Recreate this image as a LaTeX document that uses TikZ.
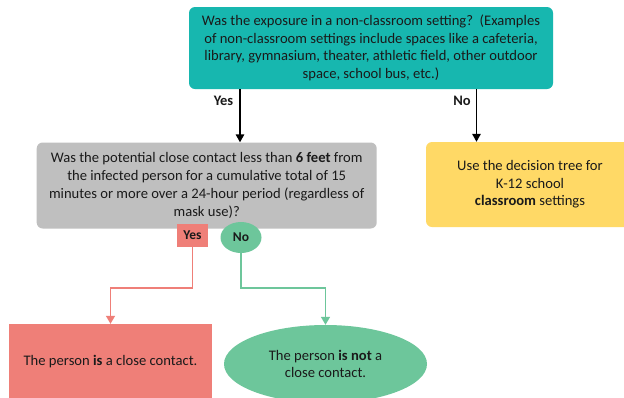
\documentclass[tikz,border=0pt]{standalone}
\usepackage{fontspec}
\setmainfont{Carlito}
\usetikzlibrary{arrows.meta,shapes.geometric}
\definecolor{teal1}{HTML}{17B7AF}
\definecolor{grey1}{HTML}{BFBFBF}
\definecolor{yel1}{HTML}{FFD966}
\definecolor{red1}{HTML}{EF7F78}
\definecolor{grn1}{HTML}{6DC69B}
\definecolor{txt}{HTML}{1A1A1A}
\tikzset{
  box/.style={rounded corners=6pt, inner sep=0pt, align=center, text=txt,
    font=\fontsize{14.6}{17.6}\selectfont},
  blk/.style={line width=1.5pt, draw=black, -{Triangle[width=8.5pt,length=8pt]}},
  redln/.style={line width=1.4pt, draw=red1, -{Triangle[width=9pt,length=8pt]}},
  grnln/.style={line width=1.4pt, draw=grn1, -{Triangle[width=9pt,length=8pt]}},
  lbl/.style={font=\bfseries\fontsize{14.5}{16}\selectfont, text=txt, inner sep=0pt},
  small/.style={font=\bfseries\fontsize{13.5}{15}\selectfont, text=txt, inner sep=0pt}
}
\begin{document}
\begin{tikzpicture}[x=1pt,y=-1pt]
\useasboundingbox (0,0) rectangle (624,397);
\clip (0,0) rectangle (624,397);
\fill[white] (0,0) rectangle (624,397);

\node[box, fill=teal1, minimum width=364pt, minimum height=82pt] (q1) at (371,48)
  {Was the exposure in a non-classroom setting?\ \ (Examples\\
   of non-classroom settings include spaces like a cafeteria,\\
   library, gymnasium, theater, athletic field, other outdoor\\
   space, school bus, etc.)};

\node[box, fill=grey1, minimum width=340pt, minimum height=86pt,
  font=\fontsize{14.6}{18}\selectfont] (q2) at (206.7,185.5)
  {Was the potential close contact less than \textbf{6 feet} from\\
   the infected person for a cumulative total of 15\\
   minutes or more over a 24-hour period (regardless of\\
   mask use)?};

\node[box, fill=yel1, minimum width=208pt, minimum height=85pt] (y1) at (530,184.5)
  {Use the decision tree for\\ K-12 school\\ \textbf{classroom} settings};

\coordinate (ya) at (240,0);
\coordinate (na) at (476.5,0);
\draw[blk] (q1.south -| ya) -- (q2.north -| ya);
\draw[blk] (q1.south -| na) -- (y1.north -| na);
\node[lbl] (yes1) at (223.5,100.5) {Yes};
\node[lbl] (no1) at (462,100.5) {No};

\node[small, fill=red1, minimum width=31pt, minimum height=23pt] (yes2) at (192.5,235.5) {Yes};
\node[small, ellipse, fill=grn1, minimum width=41pt, minimum height=31pt] (no2) at (241,237.5) {No};

\node[box, rounded corners=0pt, fill=red1, minimum width=203pt, minimum height=76pt] (r) at (110.5,362)
  {The person \textbf{is} a close contact.};
\node[box, ellipse, fill=grn1, minimum width=203pt, minimum height=78pt] (g) at (325.5,364)
  {The person \textbf{is not} a\\ close contact.};

\coordinate (mid) at (0,288);
\draw[redln] (yes2.south) -- (yes2.south |- mid) -| (r.north);
\draw[grnln] (no2.south) -- (no2.south |- mid) -| (g.north);
\end{tikzpicture}
\end{document}
